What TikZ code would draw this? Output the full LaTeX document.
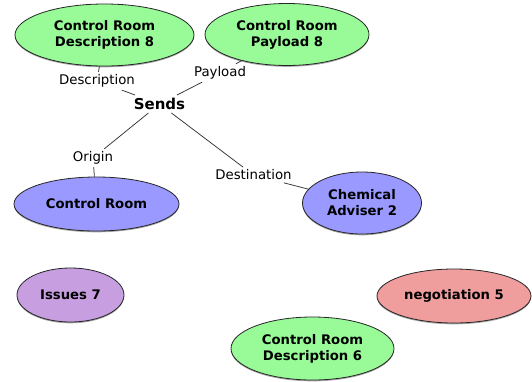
\documentclass[tikz,border=0pt]{standalone}
\usepackage{fontspec}
\setmainfont{DejaVu Sans}
\usetikzlibrary{shapes.geometric,shadows}

\definecolor{conceptgreen}{RGB}{152,251,152}
\definecolor{conceptblue}{RGB}{153,153,255}
\definecolor{conceptpurple}{RGB}{199,158,224}
\definecolor{conceptpink}{RGB}{239,157,157}
\definecolor{linkgray}{RGB}{51,51,51}

\tikzset{
  concept/.style={ellipse, draw=black!85, line width=0.8pt, inner sep=0pt,
    align=center, font=\fontsize{13.2}{16}\selectfont\bfseries,
    drop shadow={shadow xshift=0pt, shadow yshift=-1.3pt, opacity=0.35, fill=black}},
  relation/.style={font=\fontsize{15}{18}\selectfont\bfseries, inner sep=3pt},
  rolelabel/.style={font=\fontsize{13.3}{16}\selectfont, inner sep=2.5pt},
  link/.style={draw=linkgray, line width=0.75pt},
}

\begin{document}
\begin{tikzpicture}[x=1pt, y=-1pt]
  \useasboundingbox (0,0) rectangle (532,381);

  % concepts
  \node[concept, fill=conceptgreen, minimum width=179pt, minimum height=62pt]
    (desc8) at (104.5,35) {Control Room\\Description 8};
  \node[concept, fill=conceptgreen, minimum width=164pt, minimum height=62pt]
    (pay8) at (287,34.5) {Control Room\\Payload 8};
  \node[concept, fill=conceptblue, minimum width=165pt, minimum height=54pt]
    (room) at (96.5,204) {Control Room};
  \node[concept, fill=conceptblue, minimum width=119pt, minimum height=62pt]
    (chem) at (362,203) {Chemical\\Adviser 2};
  \node[concept, fill=conceptpurple, minimum width=107pt, minimum height=54pt]
    (issues) at (70.5,295) {Issues 7};
  \node[concept, fill=conceptpink, minimum width=154pt, minimum height=54pt]
    (nego) at (454,296) {negotiation 5};
  \node[concept, fill=conceptgreen, minimum width=163pt, minimum height=63pt]
    (desc6) at (312.5,348.5) {Control Room\\Description 6};

  % relation and its roles
  \node[relation] (sends) at (159.5,104) {Sends};
  \node[rolelabel] (lDesc) at (97,81) {Description};
  \node[rolelabel] (lPay) at (220,73) {Payload};
  \node[rolelabel] (lOrig) at (93,158) {Origin};
  \node[rolelabel] (lDest) at (253.5,175) {Destination};

  \draw[link] (desc8) -- (lDesc) -- (sends);
  \draw[link] (pay8) -- (lPay) -- (sends);
  \draw[link] (sends) -- (lOrig) -- (room);
  \draw[link] (sends) -- (lDest) -- (chem);
\end{tikzpicture}
\end{document}
